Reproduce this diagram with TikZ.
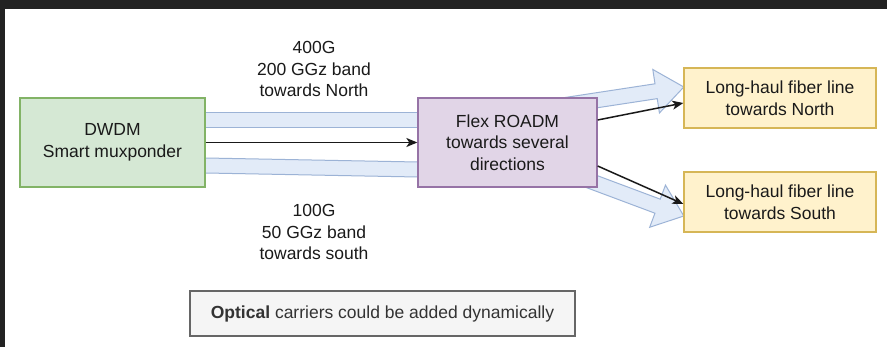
\documentclass[tikz,border=0pt]{standalone}
\usepackage{fontspec}
\setmainfont{Liberation Sans}
\usetikzlibrary{calc,arrows.meta}
\definecolor{gfill}{HTML}{D5E8D4}\definecolor{gdraw}{HTML}{82B366}
\definecolor{pfill}{HTML}{E1D5E7}\definecolor{pdraw}{HTML}{9673A6}
\definecolor{yfill}{HTML}{FFF2CC}\definecolor{ydraw}{HTML}{D6B656}
\definecolor{bfill}{HTML}{E2EBF8}\definecolor{bdraw}{HTML}{9CB3D6}
\definecolor{nfill}{HTML}{F5F5F5}\definecolor{ndraw}{HTML}{666666}
\definecolor{ntext}{HTML}{333333}\definecolor{framecol}{HTML}{222222}
\definecolor{txt}{HTML}{1A1A1A}
\tikzset{
  box/.style={draw, line width=1.3pt, align=center, inner sep=0pt, text=txt,
    font=\fontsize{17.5}{21.5}\selectfont},
  lbl/.style={align=center, inner sep=0pt, text=txt, font=\fontsize{17.5}{21.5}\selectfont},
  band/.style={fill=bfill, draw=bdraw, line width=1pt, line join=miter},
  conn/.style={draw=black!90, line width=1.5pt, -{Stealth[length=11pt,width=9pt,inset=3pt]}},
}
\newcommand\flexarr[5]{%
  \coordinate (fh) at ($(#2)!#5!(#1)$);
  \filldraw[band] ($(#1)!#3!90:(#2)$) -- ($(fh)!#3!90:(#2)$) -- ($(fh)!#4!90:(#2)$)
    -- (#2) -- ($(fh)!#4!-90:(#2)$) -- ($(fh)!#3!-90:(#2)$) -- ($(#1)!#3!-90:(#2)$) -- cycle;
}
\begin{document}
\begin{tikzpicture}[x=1pt,y=-1pt]
\useasboundingbox (0,0) rectangle (887,347);
\fill[white] (-10,-10) rectangle (897,357);
\fill[framecol] (-10,-10) rectangle (897,9);
\fill[framecol] (-10,-10) rectangle (5,357);

\path (112.5,142.5) coordinate (dwdmc) (507.5,142.5) coordinate (roadmc)
      (780,98) coordinate (northc) (780,202) coordinate (southc);

\node[minimum width=185pt, minimum height=89pt, inner sep=0pt] (dwdm0) at (dwdmc) {};
\node[minimum width=179pt, minimum height=89pt, inner sep=0pt] (roadm0) at (roadmc) {};
\node[minimum width=192pt, minimum height=60pt, inner sep=0pt] (north0) at (northc) {};
\node[minimum width=192pt, minimum height=60pt, inner sep=0pt] (south0) at (southc) {};

% bands between DWDM and ROADM
\filldraw[band] ($(dwdm0.east)+(-5,-29.5)$) rectangle ($(roadm0.west)+(5,-14.5)$);
\filldraw[band] ($(dwdm0.east)+(-5,15.4)$) -- ($(roadm0.west)+(5,19.6)$)
   -- ($(roadm0.west)+(5,34.6)$) -- ($(dwdm0.east)+(-5,30.4)$) -- cycle;

% flex arrows from ROADM
\coordinate (nt) at ($(roadm0.center)+(-7.5,-27.5)$);
\coordinate (nh) at ($(north0.west)+(0,-11)$);
\flexarr{nt}{nh}{7.5pt}{22pt}{28pt}
\coordinate (st) at ($(roadm0.center)+(2.5,8.5)$);
\coordinate (sh) at ($(south0.west)+(0,14)$);
\flexarr{st}{sh}{7.5pt}{22.5pt}{28pt}

% boxes
\node[box, fill=gfill, draw=gdraw, minimum width=185pt, minimum height=89pt] (dwdm) at (dwdmc) {DWDM\\Smart muxponder};
\node[box, fill=pfill, draw=pdraw, minimum width=179pt, minimum height=89pt] (roadm) at (roadmc) {Flex ROADM\\towards several\\directions};
\node[box, fill=yfill, draw=ydraw, minimum width=192pt, minimum height=60pt] (north) at (northc) {Long-haul fiber line\\towards North};
\node[box, fill=yfill, draw=ydraw, minimum width=192pt, minimum height=60pt] (south) at (southc) {Long-haul fiber line\\towards South};
\node[box, fill=nfill, draw=ndraw, text=ntext, minimum width=385pt, minimum height=45pt] (note) at (382.5,313.5) {\textbf{Optical} carriers could be added dynamically};

% black connectors
\draw[conn] (dwdm.east) -- (roadm.west);
\draw[conn] ($(roadm.east)+(0,-22.5)$) -- ($(north.west)+(0,5)$);
\draw[conn] ($(roadm.east)+(0,23.5)$) -- ($(south.west)+(0,2)$);

% labels
\node[lbl] (toplabel) at (314,69) {400G\\200 GGz band\\towards North};
\node[lbl] (botlabel) at (314,232) {100G\\50 GGz band\\towards south};
\end{tikzpicture}
\end{document}
